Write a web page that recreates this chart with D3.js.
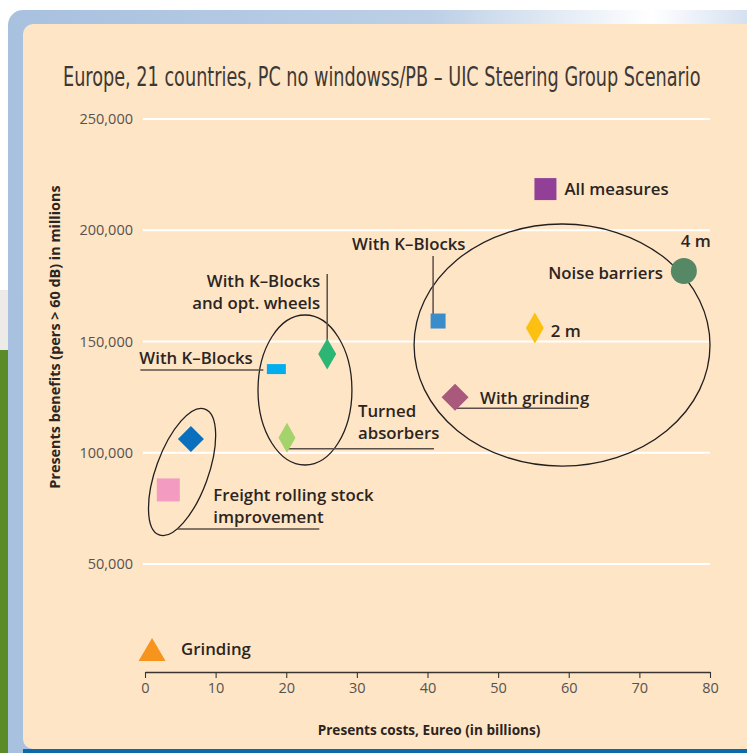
<!DOCTYPE html>
<html lang="en">
<head>
<meta charset="UTF-8">
<title>UIC Steering Group Scenario</title>
<script src="https://d3js.org/d3.v7.min.js"></script>
<style>
    body { margin: 0; background: #fff; }
    svg { display: block; }
    text { font-family: "Open Sans", "Noto Sans", sans-serif; }
</style>
</head>
<body>
<svg width="747" height="753"></svg>
<script>
    // data
    const names = ["All measures", "Noise barriers 4 m", "Noise barriers 2 m", "With K-Blocks",
        "With grinding", "With K-Blocks and opt. wheels", "With K-Blocks (left)", "Turned absorbers",
        "Freight diamond", "Freight rolling stock improvement", "Grinding"];
    const costs = [56.7, 76.3, 55.2, 41.5, 43.9, 25.8, 18.6, 20.1, 6.5, 3.3, 1.0];
    const benefits = [218500, 181700, 156100, 159200, 125000, 144400, 137600, 106700, 106200, 83300, 11600];

    const xTicks = [0, 10, 20, 30, 40, 50, 60, 70, 80];
    const yTicks = [50000, 100000, 150000, 200000, 250000];

    // marker styles
    const shapes = ["square", "circle", "diamond", "square", "diamond", "diamond", "rect", "diamond", "diamond", "square", "triangle"];
    const colors = ["#923f97", "#568866", "#fcc010", "#3b8ccb", "#a8597c", "#2db673", "#00aeef", "#a4d36c", "#0a6fbd", "#f49bc1", "#f7941e"];
    const sizes = [[22, 22], [26, 26], [18, 31], [15, 15], [27, 27], [18, 31], [19, 10], [17, 30], [26, 26], [23, 23], [27, 23]];

    // ellipse groupings (data units)
    const ellipses = [
        {cx: 59.05, cy: 148400, rx: 20.95, ry: 54400, rot: 0},
        {cx: 22.65, cy: 128200, rx: 6.65, ry: 33700, rot: 0},
        {cx: 5.25, cy: 91350, rx: 3.7, ry: 30100, rot: 20}
    ];

    const svg = d3.select("svg");
    const W = 747, H = 753;

    // page frame
    const defs = svg.append("defs");
    const grad = defs.append("linearGradient").attr("id", "frame");
    grad.append("stop").attr("offset", "0").attr("stop-color", "#a8c1df");
    grad.append("stop").attr("offset", "0.55").attr("stop-color", "#bccfe6");
    grad.append("stop").attr("offset", "0.84").attr("stop-color", "#ffffff");
    grad.append("stop").attr("offset", "1").attr("stop-color", "#c9d8ec");

    svg.append("rect").attr("x", 0).attr("y", 290).attr("width", 10).attr("height", 60).attr("fill", "#ecebe8");
    svg.append("rect").attr("x", 0).attr("y", 350).attr("width", 10).attr("height", H - 350).attr("fill", "#5b8a29");
    svg.append("rect").attr("x", 8).attr("y", 10).attr("width", W + 20).attr("height", H + 20)
        .attr("rx", 15).attr("fill", "url(#frame)");
    svg.append("rect").attr("x", 8).attr("y", 300).attr("width", 15).attr("height", H).attr("fill", "#a8c1df");
    svg.append("rect").attr("x", 23).attr("y", 24).attr("width", W + 20).attr("height", 725)
        .attr("rx", 10).attr("fill", "#fee5c6");
    svg.append("rect").attr("x", 23).attr("y", 749).attr("width", W).attr("height", 10).attr("fill", "#0c69ab");

    const x = d3.scaleLinear().domain([0, 80]).range([145, 710]);
    const y = d3.scaleLinear().domain([0, 250000]).range([675.25, 119]);

    // title, squeezed horizontally to the condensed look
    const title = svg.append("text")
        .style("font-family", "'Liberation Sans Narrow', 'DejaVu Sans Condensed', sans-serif")
        .style("font-size", "26px").attr("fill", "#3d3834")
        .text("Europe, 21 countries, PC no windowss/PB \u2013 UIC Steering Group Scenario");
    const tw = title.node().getComputedTextLength();
    title.attr("transform", `translate(63,86) scale(${Math.min(1, 638 / tw)},1)`);

    // gridlines
    svg.append("g").selectAll("line").data(yTicks).join("line")
        .attr("x1", 143).attr("x2", 710)
        .attr("y1", d => y(d)).attr("y2", d => y(d))
        .attr("stroke", "#fff").attr("stroke-width", 2);

    // y tick labels
    svg.append("g").selectAll("text").data(yTicks).join("text")
        .attr("x", 133).attr("y", d => y(d) + 5)
        .attr("text-anchor", "end")
        .style("font-size", "14.5px").attr("fill", "#58524e")
        .text(d => d3.format(",")(d));

    // x axis
    const xAxis = svg.append("g").attr("transform", "translate(0,672)")
        .call(d3.axisBottom(x).tickValues(xTicks).tickSize(6).tickPadding(5).tickSizeOuter(0));
    xAxis.select(".domain").attr("stroke", "#3a3430").attr("stroke-width", 1.3);
    xAxis.selectAll(".tick line").attr("stroke", "#3a3430").attr("stroke-width", 1.1);
    xAxis.selectAll(".tick text").style("font-size", "14.5px").style("font-family", "'Open Sans', sans-serif").attr("fill", "#58524e");

    // axis titles
    svg.append("text")
        .attr("x", 429).attr("y", 735).attr("text-anchor", "middle")
        .style("font-size", "13.6px").style("font-weight", 700).attr("fill", "#2b2522")
        .text("Presents costs, Eureo (in billions)");
    svg.append("text")
        .attr("transform", "translate(60,337) rotate(-90)").attr("text-anchor", "middle")
        .style("font-size", "14.4px").style("font-weight", 700).attr("fill", "#2b2522")
        .text("Presents benefits (pers > 60 dB) in millions");

    // ellipses
    svg.append("g").selectAll("ellipse").data(ellipses).join("ellipse")
        .attr("transform", d => `translate(${x(d.cx)},${y(d.cy)}) rotate(${d.rot})`)
        .attr("rx", d => x(d.rx) - x(0))
        .attr("ry", d => y(0) - y(d.ry))
        .attr("fill", "none").attr("stroke", "#231f20").attr("stroke-width", 1.3);

    // leader lines: [point index, dx1, dy1, dx2, dy2]
    const leaders = [
        [3, -5, -65, -5, -7],
        [4, 0, 11, 123, 11],
        [5, 0, -80, 0, -14],
        [6, -136, 1, -13, 1],
        [7, 1, 11, 147, 11],
        [9, 9, 39, 151, 39]
    ];
    svg.append("g").selectAll("line").data(leaders).join("line")
        .attr("x1", d => x(costs[d[0]]) + d[1]).attr("y1", d => y(benefits[d[0]]) + d[2])
        .attr("x2", d => x(costs[d[0]]) + d[3]).attr("y2", d => y(benefits[d[0]]) + d[4])
        .attr("stroke", "#5a4f49").attr("stroke-width", 1.5);

    // markers
    function markerPath(shape, w, h) {
        const a = w / 2, b = h / 2;
        if (shape === "diamond") return `M0,${-b}L${a},0L0,${b}L${-a},0Z`;
        if (shape === "triangle") return `M0,${-b}L${a},${b}L${-a},${b}Z`;
        if (shape === "circle") return d3.symbol(d3.symbolCircle, Math.PI * a * a)();
        return `M${-a},${-b}H${a}V${b}H${-a}Z`;
    }
    svg.append("g").selectAll("path").data(costs).join("path")
        .attr("transform", (d, i) => `translate(${x(d)},${y(benefits[i])})`)
        .attr("d", (d, i) => markerPath(shapes[i], sizes[i][0], sizes[i][1]))
        .attr("fill", (d, i) => colors[i]);

    // annotation labels: [point index, dx, dy, anchor, lines]
    const labels = [
        [0, 19, 6, "start", ["All measures"]],
        [1, -3, -24, "start", ["4 m"]],
        [1, -21, 8, "end", ["Noise barriers"]],
        [2, 16, 9, "start", ["2 m"]],
        [3, -86, -71, "start", ["With K\u2013Blocks"]],
        [4, 25, 7, "start", ["With grinding"]],
        [5, -7, -67, "end", ["With K\u2013Blocks", "and opt. wheels"]],
        [6, -137, -5, "start", ["With K\u2013Blocks"]],
        [7, 71, -21, "start", ["Turned", "absorbers"]],
        [9, 45, 11, "start", ["Freight rolling stock", "improvement"]],
        [10, 29, 6, "start", ["Grinding"]]
    ];
    const lab = svg.append("g").selectAll("text").data(labels).join("text")
        .attr("x", d => x(costs[d[0]]) + d[1])
        .attr("y", d => y(benefits[d[0]]) + d[2])
        .attr("text-anchor", d => d[3])
        .style("font-size", "16.8px").style("font-weight", 600).attr("fill", "#2b2522");
    lab.selectAll("tspan").data(d => d[4].map(t => [t, d])).join("tspan")
        .attr("x", d => x(costs[d[1][0]]) + d[1][1])
        .attr("dy", (d, i) => i === 0 ? 0 : 22)
        .text(d => d[0]);
</script>
</body>
</html>
